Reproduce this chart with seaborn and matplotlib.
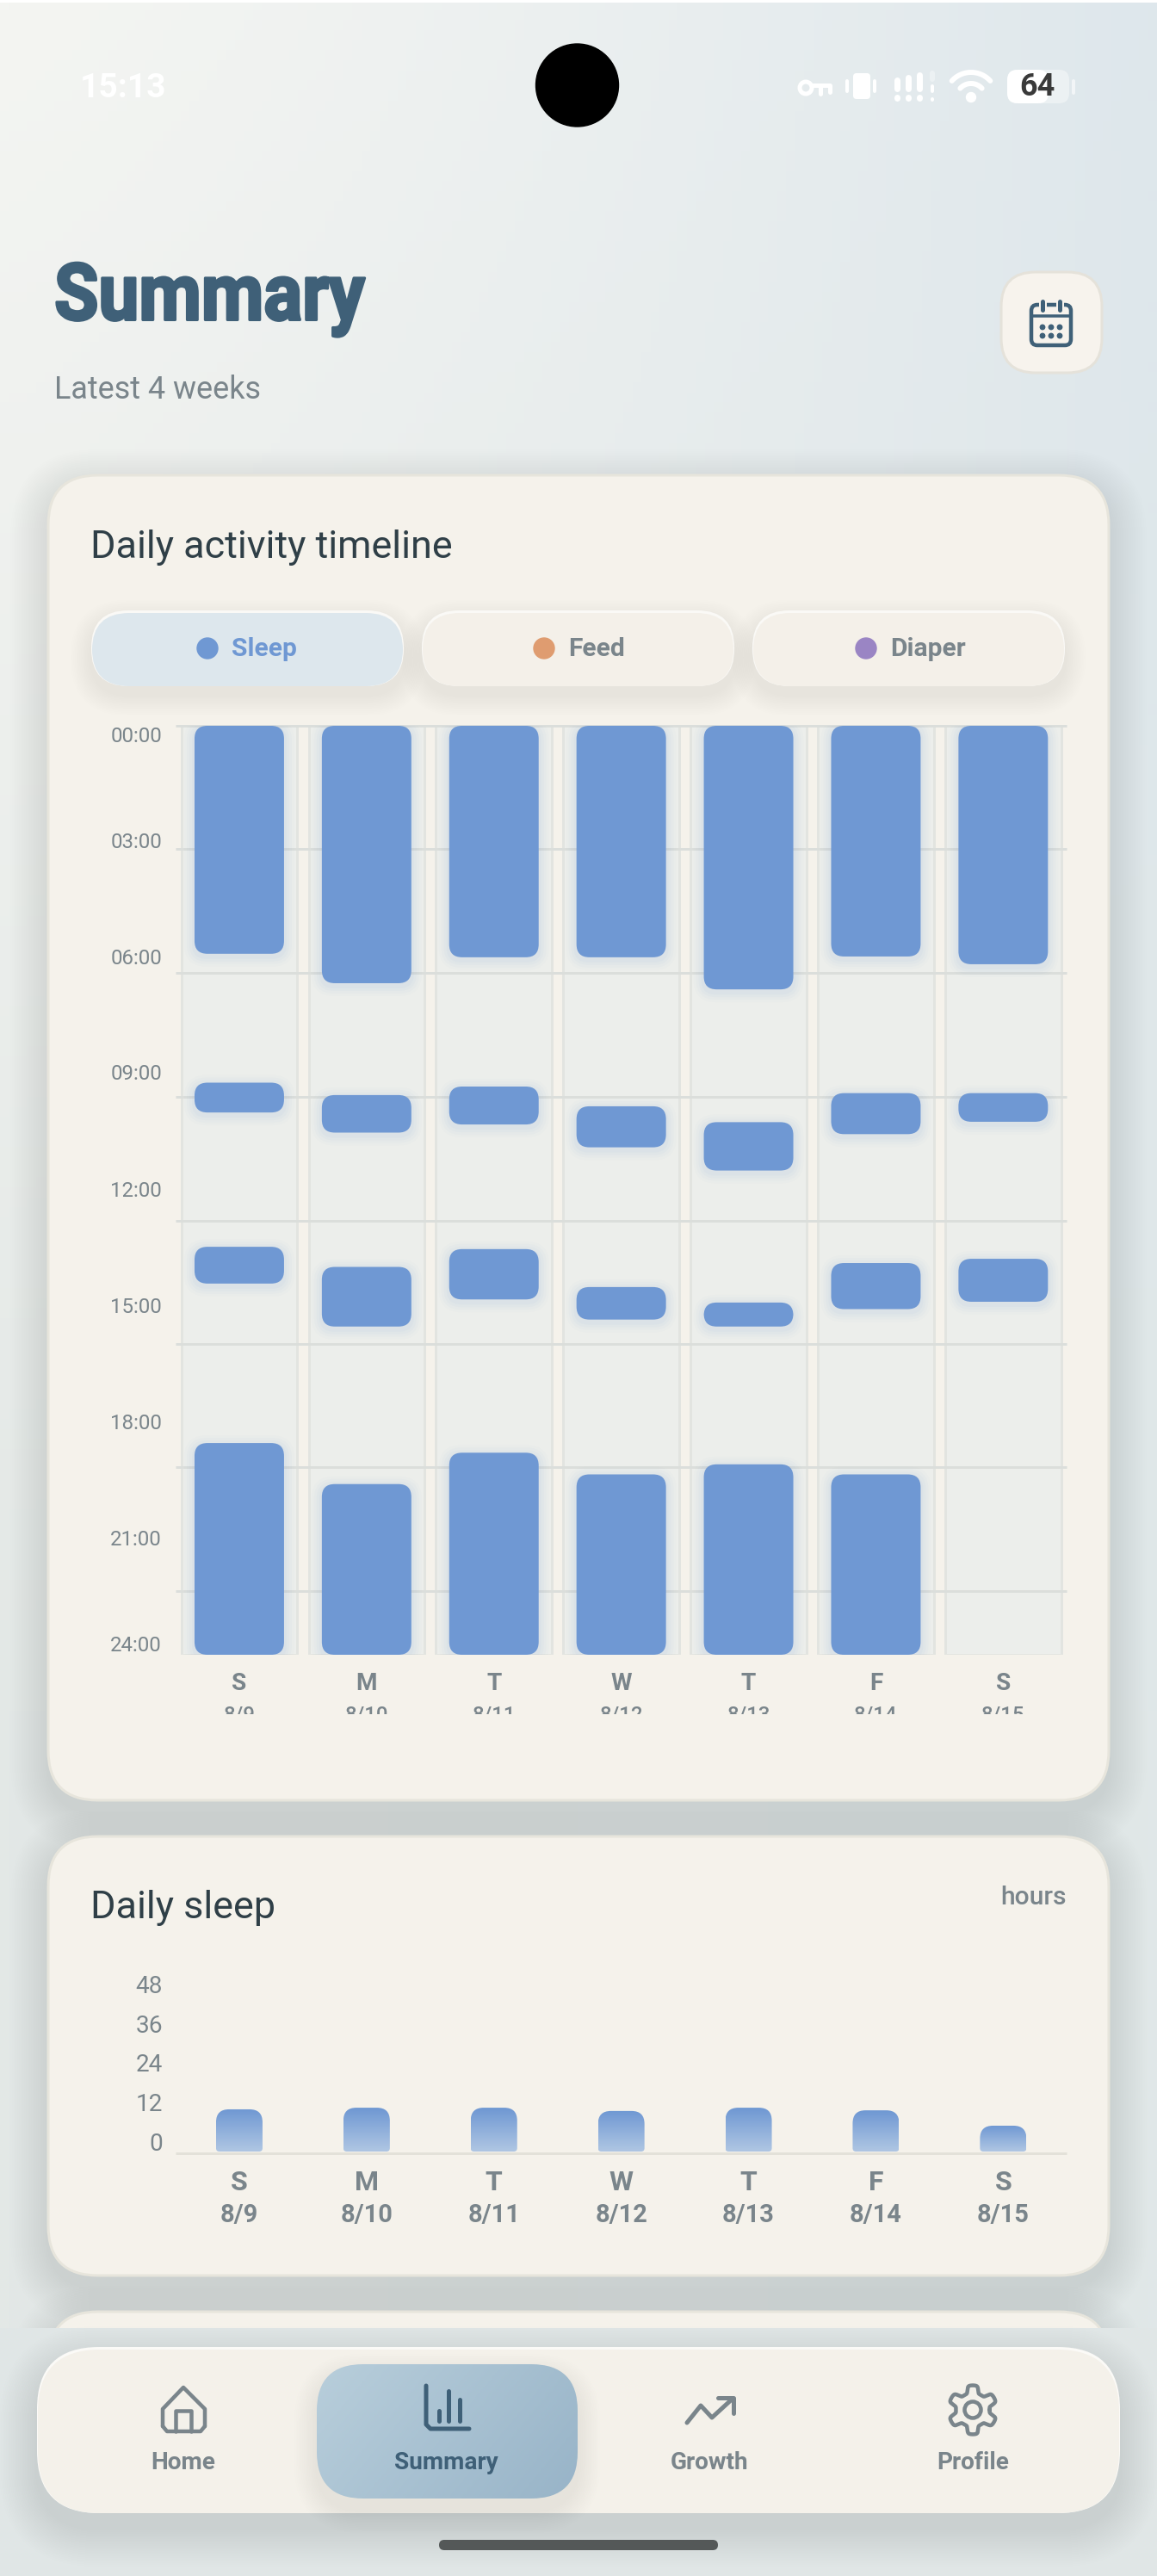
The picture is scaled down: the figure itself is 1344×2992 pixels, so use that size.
import numpy as np
import pandas as pd
import matplotlib
matplotlib.use('Agg')
import matplotlib.pyplot as plt
import matplotlib.patheffects as pe
import seaborn as sns
from matplotlib.colors import LinearSegmentedColormap
from matplotlib.patches import FancyBboxPatch, PathPatch, Circle, Rectangle
from matplotlib.path import Path
from matplotlib.transforms import IdentityTransform, Bbox, Affine2D, ScaledTranslation

W, H = 1344, 2992

# data
days = ['S', 'M', 'T', 'W', 'T', 'F', 'S']
dates = ['8/9', '8/10', '8/11', '8/12', '8/13', '8/14', '8/15']

night_start = [0, 0, 0, 0, 0, 0, 0]
night_end = [5.89, 6.65, 5.98, 5.98, 6.81, 5.96, 6.16]
morning_start = [9.22, 9.54, 9.32, 9.83, 10.24, 9.49, 9.49]
morning_end = [9.99, 10.51, 10.30, 10.89, 11.49, 10.55, 10.23]
noon_start = [13.46, 13.98, 13.52, 14.50, 14.90, 13.88, 13.77]
noon_end = [14.41, 15.52, 14.82, 15.34, 15.52, 15.07, 14.88]
evening_start = [18.53, 19.59, 18.78, 19.34, 19.08, 19.34, 24]
evening_end = [24, 24, 24, 24, 24, 24, 24]

time_labels = ['00:00', '03:00', '06:00', '09:00', '12:00', '15:00', '18:00', '21:00', '24:00']
time_label_pos = [0.22, 2.96, 5.96, 8.94, 11.96, 14.98, 17.98, 20.98, 23.71]
grid_pos = [0, 3.19, 6.39, 9.58, 12.78, 15.97, 19.16, 22.36]

sleep_hours = [12.9, 13.4, 13.4, 12.4, 13.4, 12.6, 7.9]
sleep_ticks = [0, 12, 24, 36, 48]

legend_items = ['Sleep', 'Feed', 'Diaper']
legend_colors = ['#6F98D3', '#DF9C70', '#9A85C4']
nav_items = ['Home', 'Summary', 'Growth', 'Profile']

BLUE = '#6F98D3'
CARD = '#F5F2EB'
EDGE = '#E7E5DC'
GREY = '#7A858B'
NAVY = '#3F6078'
DARK = '#2F3F47'

sns.set_theme(style='white', rc={'axes.facecolor': 'none', 'figure.facecolor': 'none'})
plt.rcParams['font.family'] = ['Roboto', 'DejaVu Sans']

fig = plt.figure(figsize=(W / 100, H / 100), dpi=100)


def axes_px(x0, y0, x1, y1, **kw):
    return fig.add_axes([x0 / W, 1 - y1 / H, (x1 - x0) / W, (y1 - y0) / H], **kw)


def fs(px):
    return px * 0.72


class Squeeze(pe.AbstractPathEffect):
    # narrows a text around its left edge, there is no letter-spacing in matplotlib
    def __init__(self, x0, sx, lw=0):
        super().__init__()
        self.x0, self.sx, self.lw = x0, sx, lw

    def draw_path(self, renderer, gc, tpath, affine, rgbFace=None):
        squeezed = affine + Affine2D().translate(-self.x0, 0).scale(self.sx, 1).translate(self.x0, 0)
        gc0 = renderer.new_gc()
        gc0.copy_properties(gc)
        gc0.set_linewidth(self.lw)
        gc0.set_foreground(rgbFace)
        gc0.set_joinstyle('round')
        renderer.draw_path(gc0, tpath, squeezed, rgbFace)
        gc0.restore()


bg = axes_px(0, 0, W, H, zorder=0)
bg.set_xlim(0, W)
bg.set_ylim(H, 0)
bg.axis('off')

# page gradient
gx, gy = np.meshgrid(np.linspace(0, 1, 128), np.linspace(0, 1, 256))
diag = np.clip(gx[..., None] ** 1.3, 0, 1)
top = np.array([244, 245, 242]) * (1 - diag) + np.array([222, 231, 236]) * diag
bottom = np.array([227, 232, 230]) * (1 - gx[..., None]) + np.array([224, 231, 232]) * gx[..., None]
fade = np.clip(gy[..., None] * 1.5, 0, 1)
bg.imshow((top * (1 - fade) + bottom * fade) / 255, extent=(0, W, H, 0), aspect='auto', zorder=0)
bg.set_xlim(0, W)
bg.set_ylim(H, 0)
bg.add_patch(Rectangle((0, 0), W, 3, color='white', zorder=1, lw=0))


def box(x0, y0, x1, y1, r, z=2, a=bg, **kw):
    kw.setdefault('lw', 0)
    p = FancyBboxPatch((x0, y0), x1 - x0, y1 - y0, boxstyle=f'round,pad=0,rounding_size={r}', zorder=z, **kw)
    a.add_patch(p)
    return p


def shadow(x0, y0, x1, y1, r, spread=30, dy=10, color='#6F8080', alpha=0.012, z=1.5, n=15):
    for i in range(n):
        s = spread * (1 - i / n)
        box(x0 - s, y0 - s + dy, x1 + s, y1 + s + dy, r + s, z=z, fc=color, alpha=alpha)


def txt(x, y, s, px, color=GREY, weight='normal', ha='center', z=5, **kw):
    return bg.text(x, y, s, fontsize=fs(px), color=color, fontweight=weight, ha=ha, va='center', zorder=z, **kw)


def stroke(xs, ys, color=GREY, lw=4.5, z=6, **kw):
    bg.plot(xs, ys, color=color, lw=fs(lw), solid_capstyle='round', solid_joinstyle='round', zorder=z, **kw)


# status bar
txt(143, 102, '15:13', 39, color='white', weight='bold')
bg.add_patch(Circle((670.5, 99), 48, color='black', zorder=5))
# key
bg.add_patch(Circle((936, 102), 7, fc='none', ec='white', lw=fs(5), zorder=5))
stroke([943, 964, 964], [99, 99, 107], color='white', lw=5)
stroke([953, 953], [99, 109], color='white', lw=5)
# vibrate
box(991, 85, 1011, 115, 4, z=5, fc='white')
stroke([984, 984], [94, 106], color='white', lw=4)
stroke([1016, 1016], [94, 106], color='white', lw=4)
# signal
for sx, sy in [(1042, 93), (1055, 90), (1068, 87)]:
    stroke([sx, sx], [sy, 103], color='white', lw=7)
    stroke([sx, sx], [113, 114], color='white', lw=7)
stroke([1083, 1083], [85, 92], color='white', lw=6, alpha=0.35)
stroke([1083, 1083], [100, 106], color='white', lw=4)
stroke([1083, 1083], [115, 116], color='white', lw=4)
# wifi
th = np.linspace(np.radians(222), np.radians(318), 30)
for rad, wd in [(30, 6), (17, 6)]:
    stroke(1128 + rad * np.cos(th), 114 + rad * np.sin(th), color='white', lw=wd)
bg.add_patch(Circle((1128, 113), 5.5, color='white', zorder=6))
# battery
box(1170, 81, 1242, 120, 12, z=5, fc='#F7F9F9', alpha=0.55)
box(1170, 81, 1218, 120, 12, z=5, fc='white')
stroke([1247, 1247], [94, 108], color='white', lw=4, alpha=0.6)
txt(1205, 101, '64', 36, color='#3A3A3A', weight='bold', z=7)

# header
title = txt(63, 347, 'Summary', 92, color=NAVY, weight='bold', ha='left')
title.set_path_effects([Squeeze(63, 0.91, lw=2.2)])
txt(63, 453, 'Latest 4 weeks', 36, color=GREY, ha='left')
box(1163, 316, 1280, 433, 40, fc='#F7F3ED', ec='#E5E2DA', lw=fs(3))
box(1198, 354, 1244, 401, 7, z=5, fc='none', ec=NAVY, lw=fs(4.5))
stroke([1198, 1244], [367, 367], color=NAVY, lw=3.5)
for rx in [1211, 1231]:
    stroke([rx, rx], [350, 360], color='#F7F3ED', lw=9, z=5.5)
    stroke([rx, rx], [350, 360], color=NAVY, lw=5)
for cy in [380, 390]:
    for cx in [1211, 1221, 1231]:
        bg.add_patch(Circle((cx, cy), 2.7, color=NAVY, zorder=6))

# cards
for y0, y1 in [(552, 2091), (2133, 2643), (2685, 2840)]:
    shadow(56, y0, 1288, y1, 58, spread=44, dy=14, alpha=0.0042, n=22)
    box(56, y0, 1288, y1, 58, fc=CARD, ec=EDGE, lw=fs(3))
txt(105, 636, 'Daily activity timeline', 45, color=DARK, ha='left')
txt(105, 2216, 'Daily sleep', 45, color=DARK, ha='left')
txt(1239, 2204, 'hours', 30, weight='medium', ha='right')

# legend pills
for i, (name, col) in enumerate(zip(legend_items, legend_colors)):
    x0 = 106 + i * 384
    shadow(x0, 711, x0 + 363, 797, 43, spread=24, dy=10, color='#8F8A78', alpha=0.006, z=2.1, n=14)
    box(x0, 709, x0 + 363, 797, 43, z=2.2, fc='#FAF9F6')
    box(x0 + 1, 712, x0 + 362, 797, 43, z=2.3, fc='#DDE7ED' if i == 0 else '#F4F0E9')
    dot_x = [241, 632, 1006][i]
    bg.add_patch(Circle((dot_x, 753), 12, color=col, zorder=5))
    txt(dot_x + 28, 754, name, 30, color=BLUE if i == 0 else GREY, weight='bold', ha='left')

# timeline chart
ax = axes_px(204, 843, 1239.3, 1922, zorder=2)
for start, end in [(night_start, night_end), (morning_start, morning_end), (noon_start, noon_end),
                   (evening_start, evening_end)]:
    df = pd.DataFrame({'date': dates, 'dur': np.array(end) - np.array(start)})
    sns.barplot(data=df, x='date', y='dur', bottom=start, order=dates, color=BLUE, width=0.703,
                saturation=1, errorbar=None, ax=ax)
ax.set_xlim(-0.5, 6.5)
ax.set_ylim(24, 0)
fig.canvas.draw()
for rect in list(ax.patches):
    (px0, py0), (px1, py1) = ax.transData.transform([(rect.get_x(), rect.get_y()),
                                                     (rect.get_x() + rect.get_width(),
                                                      rect.get_y() + rect.get_height())])
    rect.remove()
    if abs(py1 - py0) < 1:
        continue
    yl, yh = min(py0, py1), max(py0, py1)
    for grow, al in [(12, 0.02), (9, 0.03), (6, 0.035), (3, 0.04)]:
        ax.add_patch(FancyBboxPatch((px0 - grow, yl - grow - 3), px1 - px0 + 2 * grow, yh - yl + 2 * grow,
                                    boxstyle=f'round,pad=0,rounding_size={14 + grow}', fc=BLUE, lw=0, alpha=al,
                                    transform=IdentityTransform(), zorder=3))
    ax.add_patch(FancyBboxPatch((px0, yl), px1 - px0, yh - yl, boxstyle='round,pad=0,rounding_size=15',
                                fc=BLUE, lw=0, transform=IdentityTransform(), zorder=4, clip_on=False))
for i in range(7):
    ax.axvspan(i - 0.455, i + 0.455, fc='#ECEEEB', ec='#E2E4E0', lw=fs(3), zorder=0.5)
ax.hlines(grid_pos, -0.5, 6.5, color='#DBDEDB', lw=fs(3), zorder=1, clip_on=False)
ax.set_yticks(time_label_pos, time_labels)
ax.set_xticks(range(7), days)
ax.tick_params(axis='y', length=0, pad=fs(16), labelsize=fs(24), labelcolor=GREY)
ax.tick_params(axis='x', length=0, pad=fs(20), labelsize=fs(28), labelcolor=GREY)
for lab in ax.get_xticklabels():
    lab.set_fontweight('bold')
ax.set_xlabel('')
ax.set_ylabel('')
sns.despine(ax=ax, left=True, bottom=True)
clip = Bbox([[0, H - 1991], [W, H - 1960]])
for i, d in enumerate(dates):
    t = ax.annotate(d, xy=(i, 0), xycoords=ax.get_xaxis_transform(), xytext=(0, -fs(70)),
                    textcoords='offset points', ha='center', va='center', fontsize=fs(24),
                    color=GREY, fontweight='medium')
    t.set_clip_box(clip)
    t.set_clip_on(True)

# daily sleep chart
ax2 = axes_px(204, 2316.6, 1239.3, 2499, zorder=2)
df2 = pd.DataFrame({'date': dates, 'hours': sleep_hours})
sns.barplot(data=df2, x='date', y='hours', order=dates, color=BLUE, width=0.365, saturation=1,
            errorbar=None, ax=ax2)
ax2.set_xlim(-0.5, 6.5)
ax2.set_ylim(0, 48)
fig.canvas.draw()
grad = LinearSegmentedColormap.from_list('sleep', ['#6F98D3', '#AFC6E3'])
for rect in list(ax2.patches):
    xa, xb = rect.get_x(), rect.get_x() + rect.get_width()
    ya = rect.get_height()
    (px0, py0), (px1, py1) = ax2.transData.transform([(xa, 0), (xb, ya)])
    rect.remove()
    rt, rb = 15, 4
    verts = [(px0 + rb, py0), (px1 - rb, py0), (px1, py0), (px1, py0 + rb), (px1, py1 - rt), (px1, py1),
             (px1 - rt, py1), (px0 + rt, py1), (px0, py1), (px0, py1 - rt), (px0, py0 + rb), (px0, py0),
             (px0 + rb, py0), (px0 + rb, py0)]
    codes = [Path.MOVETO, Path.LINETO, Path.CURVE3, Path.CURVE3, Path.LINETO, Path.CURVE3, Path.CURVE3,
             Path.LINETO, Path.CURVE3, Path.CURVE3, Path.LINETO, Path.CURVE3, Path.CURVE3, Path.CLOSEPOLY]
    shape = PathPatch(Path(verts, codes), transform=IdentityTransform(), fc='none', lw=0)
    ax2.add_patch(shape)
    im = ax2.imshow(np.linspace(0, 1, 64)[:, None], extent=(xa, xb, 0, ya), cmap=grad, aspect='auto',
                    origin='upper', zorder=3)
    im.set_clip_path(shape)
ax2.set_xlim(-0.5, 6.5)
ax2.set_ylim(0, 48)
sns.despine(ax=ax2, left=True)
ax2.spines['bottom'].set_color('#E3E1D9')
ax2.spines['bottom'].set_linewidth(fs(3))
ax2.spines['bottom'].set_capstyle('butt')
ax2.spines['bottom'].set_position(('outward', fs(1.5)))
ax2.set_yticks(sleep_ticks, [str(v) for v in sleep_ticks])
ax2.set_xticks(range(7), days)
ax2.tick_params(axis='y', length=0, pad=fs(15), labelsize=fs(28), labelcolor=GREY)
ax2.tick_params(axis='x', length=0, pad=fs(20), labelsize=fs(32), labelcolor=GREY)
for lab in ax2.get_yticklabels():
    lab.set_transform(lab.get_transform() + ScaledTranslation(0, 12 / 100, fig.dpi_scale_trans))
for lab in ax2.get_xticklabels():
    lab.set_fontweight('bold')
ax2.set_xlabel('')
ax2.set_ylabel('')
for i, d in enumerate(dates):
    ax2.annotate(d, xy=(i, 0), xycoords=ax2.get_xaxis_transform(), xytext=(0, -fs(74)),
                 textcoords='offset points', ha='center', va='center', fontsize=fs(29),
                 color=GREY, fontweight='bold')

# bottom nav
bg.add_patch(Rectangle((0, 2704), W, H - 2704, color='#E0E6E6', zorder=3, lw=0))
shadow(43, 2728, 1301, 2919, 72, spread=44, dy=18, color='#6F8080', alpha=0.0075, z=3.1, n=22)
box(43, 2726, 1301, 2919, 72, z=3.2, fc='#FBFAF7')
box(44, 2729, 1300, 2919, 72, z=3.2, fc='#F4F1EA')
shadow(368, 2746, 671, 2902, 54, spread=26, dy=14, color='#7C8478', alpha=0.008, z=3.3, n=14)
sel = box(368, 2746, 671, 2902, 54, z=3.4, fc='none')
sel_grad = LinearSegmentedColormap.from_list('sel', ['#B8CEDB', '#98B4C8'])
xx, yy = np.meshgrid(np.linspace(0, 1, 64), np.linspace(0, 1, 64))
simg = bg.imshow(xx * 0.7 + yy * 0.3, extent=(368, 671, 2902, 2746), cmap=sel_grad, aspect='auto', zorder=3.5)
simg.set_clip_path(sel)
bg.set_xlim(0, W)
bg.set_ylim(H, 0)
for name, nx in zip(nav_items, [212.5, 518.5, 824, 1130]):
    txt(nx, 2861, name, 28, color=NAVY if name == 'Summary' else GREY, weight='bold')
# home icon
stroke([189, 189, 213, 238, 238], [2818, 2798, 2773, 2798, 2818])
stroke([189, 194, 233, 238], [2818, 2824, 2824, 2818])
stroke([204, 204, 222, 222], [2824, 2800, 2800, 2824])
# bars icon
stroke([495, 495, 500, 545], [2771, 2816, 2821, 2821], color=NAVY, lw=5)
stroke([510, 510], [2800, 2812], color=NAVY, lw=5)
stroke([521, 521], [2777, 2812], color=NAVY, lw=5)
stroke([534, 534], [2787, 2812], color=NAVY, lw=5)
# trend icon
stroke([798, 814, 827, 851], [2814, 2794, 2808, 2786], lw=5)
stroke([834, 852, 852], [2785, 2785, 2803], lw=5)
# gear icon
ang = np.linspace(0, 2 * np.pi, 241)
gear_r = 24 + 4.5 * np.tanh(2.5 * np.cos(6 * (ang - np.pi / 2)))
stroke(1130 + gear_r * np.cos(ang), 2799 + gear_r * np.sin(ang), lw=4.5)
bg.add_patch(Circle((1130, 2799), 9.5, fc='none', ec=GREY, lw=fs(4.5), zorder=6))
# home indicator
box(510, 2950, 834, 2962, 6, z=6, fc='#545858')

fig.savefig('out.png', dpi=100)
